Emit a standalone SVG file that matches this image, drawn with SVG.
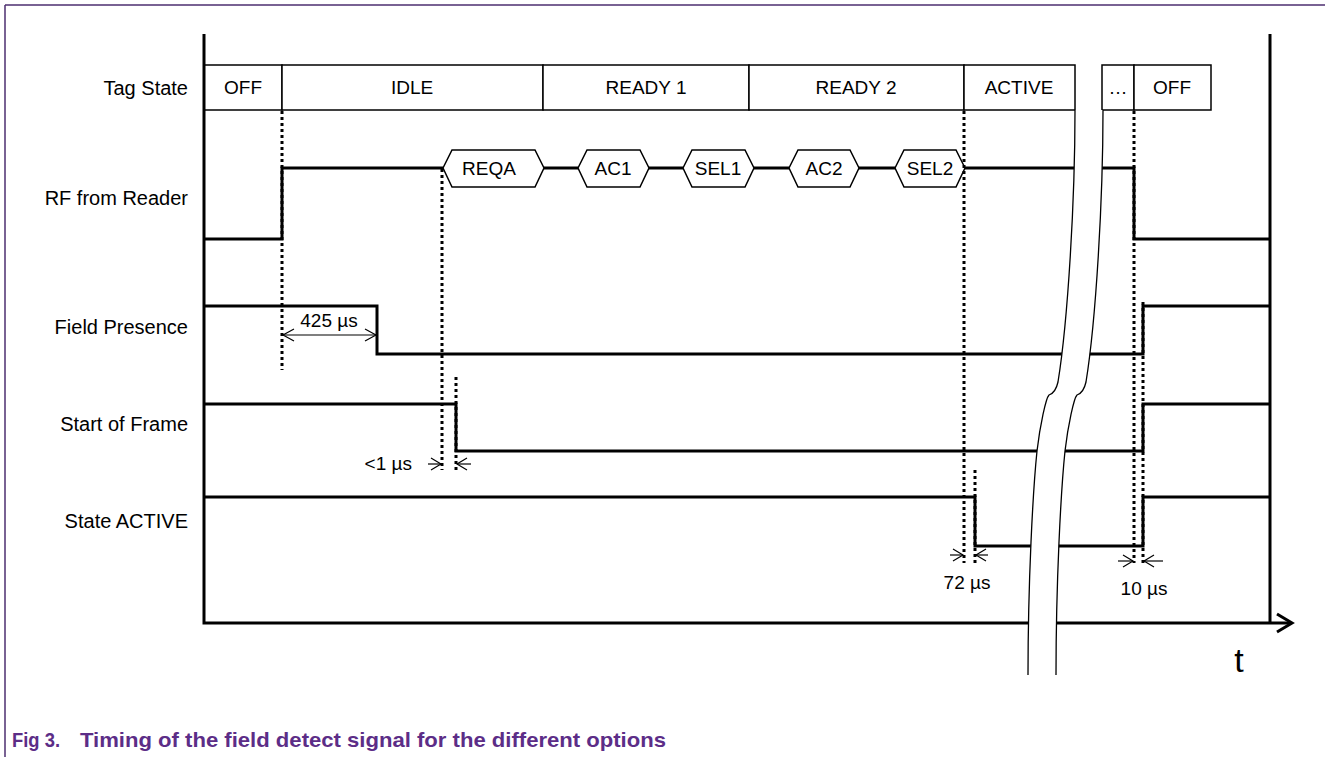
<svg xmlns="http://www.w3.org/2000/svg" width="1325" height="757" viewBox="0 0 1325 757">
<style>
  .lbl { font-family: "Liberation Sans", Arial, sans-serif; font-size: 19px; fill: #000; }
  .side { font-family: "Liberation Sans", Arial, sans-serif; font-size: 20px; fill: #000; }
  .box { fill: #fff; stroke: #000; stroke-width: 1.5; }
  .sig { fill: none; stroke: #000; stroke-width: 3; }
  .axis { fill: none; stroke: #000; stroke-width: 3; }
  .dot { fill: none; stroke: #000; stroke-width: 3; stroke-dasharray: 3 3; }
  .dim { fill: none; stroke: #000; stroke-width: 1.2; }
  .brk { fill: none; stroke: #000; stroke-width: 1.3; }
  .frame { fill: none; stroke: #4e2f70; stroke-width: 1.5; }
  .cap { font-family: "Liberation Sans", Arial, sans-serif; font-size: 21px; font-weight: bold; fill: #5c2d87; }
</style>
<defs>
  <path id="brkcurve" d="M1075,110 C1075,200 1068,320 1058,382 C1056,391 1052,394 1049,395 C1046,398 1040,425 1037,451 C1033,490 1028,580 1028,675"/>
</defs>

<g id="frame">
  <path class="frame" d="M5,5 H1325 M5,5 V757"/>
</g>

<g id="labels">
  <text class="side" x="188" y="95" text-anchor="end">Tag State</text>
  <text class="side" x="188" y="205" text-anchor="end">RF from Reader</text>
  <text class="side" x="188" y="334" text-anchor="end">Field Presence</text>
  <text class="side" x="188" y="431" text-anchor="end">Start of Frame</text>
  <text class="side" x="188" y="528" text-anchor="end">State ACTIVE</text>
</g>

<g id="tag-state">
  <rect class="box" x="204" y="65" width="78" height="45"/>
  <rect class="box" x="282" y="65" width="261" height="45"/>
  <rect class="box" x="543" y="65" width="206" height="45"/>
  <rect class="box" x="749" y="65" width="215" height="45"/>
  <rect class="box" x="964" y="65" width="111" height="45"/>
  <rect class="box" x="1102" y="65" width="32" height="45"/>
  <rect class="box" x="1134" y="65" width="77" height="45"/>
  <text class="lbl" x="243" y="94" text-anchor="middle">OFF</text>
  <text class="lbl" x="412" y="94" text-anchor="middle">IDLE</text>
  <text class="lbl" x="646" y="94" text-anchor="middle">READY 1</text>
  <text class="lbl" x="856" y="94" text-anchor="middle">READY 2</text>
  <text class="lbl" x="1019" y="94" text-anchor="middle">ACTIVE</text>
  <text class="lbl" x="1118" y="94" text-anchor="middle">…</text>
  <text class="lbl" x="1172" y="94" text-anchor="middle">OFF</text>
</g>

<g id="rf-from-reader">
  <path class="sig" d="M204,239 H282 V168 H443 M544,168 H578 M649,168 H683 M754,168 H789 M859,168 H895 M965,168 H1134 V239 H1270"/>
  <polygon class="box" points="443,168 452,150 535,150 544,168 535,187 452,187"/>
  <polygon class="box" points="578,168 587,150 640,150 649,168 640,187 587,187"/>
  <polygon class="box" points="683,168 692,150 745,150 754,168 745,187 692,187"/>
  <polygon class="box" points="789,168 798,150 850,150 859,168 850,187 798,187"/>
  <polygon class="box" points="895,168 904,150 956,150 965,168 956,187 904,187"/>
  <text class="lbl" x="489" y="175" text-anchor="middle">REQA</text>
  <text class="lbl" x="613" y="175" text-anchor="middle">AC1</text>
  <text class="lbl" x="718" y="175" text-anchor="middle">SEL1</text>
  <text class="lbl" x="824" y="175" text-anchor="middle">AC2</text>
  <text class="lbl" x="930" y="175" text-anchor="middle">SEL2</text>
</g>

<g id="field-presence">
  <path class="sig" d="M204,306 H377 V354 H1143 V306 H1270"/>
</g>

<g id="start-of-frame">
  <path class="sig" d="M204,404 H456 V451 H1143 V404 H1270"/>
</g>

<g id="state-active">
  <path class="sig" d="M204,497 H975 V546 H1143 V497 H1270"/>
</g>

<g id="axes">
  <path class="axis" d="M204,34 V623 H1290"/>
  <path class="axis" d="M1270,34 V623"/>
  <polyline class="axis" points="1277,614 1292,623 1277,632"/>
  <text x="1239" y="672" text-anchor="middle" style="font-family:'Liberation Sans',Arial,sans-serif;font-size:34px;fill:#000">t</text>
</g>

<g id="break">
  <path fill="#fff" stroke="none" d="M1075,110 C1075,200 1068,320 1058,382 C1056,391 1052,394 1049,395 C1046,398 1040,425 1037,451 C1033,490 1028,580 1028,675 L1056,675 C1056,580 1061,490 1065,451 C1068,425 1074,398 1077,395 C1080,394 1084,391 1086,382 C1096,320 1103,200 1103,110 Z"/>
  <use href="#brkcurve" class="brk"/>
  <use href="#brkcurve" class="brk" transform="translate(28,0)"/>
</g>

<g id="connectors">
  <path class="dot" d="M282,111 V370"/>
  <path class="dot" d="M442,169 V470"/>
  <path class="dot" d="M456,377 V470"/>
  <path class="dot" d="M964,111 V563"/>
  <path class="dot" d="M975,470 V563"/>
  <path class="dot" d="M1134,111 V563"/>
  <path class="dot" d="M1143,302 V563"/>

  <path class="dim" d="M283,335 H376"/>
  <polyline class="dim" points="294,329 283,335 294,341"/>
  <polyline class="dim" points="365,329 376,335 365,341"/>

  <path class="dim" d="M428,464 H441"/>
  <polyline class="dim" points="431,458 441,464 431,470"/>
  <path class="dim" d="M471,464 H457"/>
  <polyline class="dim" points="467,458 457,464 467,470"/>

  <path class="dim" d="M950,555 H963"/>
  <polyline class="dim" points="953,549 963,555 953,561"/>
  <path class="dim" d="M988,555 H976"/>
  <polyline class="dim" points="986,549 976,555 986,561"/>

  <path class="dim" d="M1118,561 H1133"/>
  <polyline class="dim" points="1123,555 1133,561 1123,567"/>
  <path class="dim" d="M1163,561 H1144"/>
  <polyline class="dim" points="1154,555 1144,561 1154,567"/>

  <text class="lbl" x="329" y="327" text-anchor="middle">425 µs</text>
  <text class="lbl" x="412" y="470" text-anchor="end">&lt;1 µs</text>
  <text class="lbl" x="967" y="589" text-anchor="middle">72 µs</text>
  <text class="lbl" x="1144" y="595" text-anchor="middle">10 µs</text>
</g>

<g id="caption">
  <text class="cap" x="12" y="747" textLength="48" lengthAdjust="spacingAndGlyphs">Fig 3.</text>
  <text class="cap" x="80" y="747" textLength="586" lengthAdjust="spacingAndGlyphs">Timing of the field detect signal for the different options</text>
</g>
</svg>
